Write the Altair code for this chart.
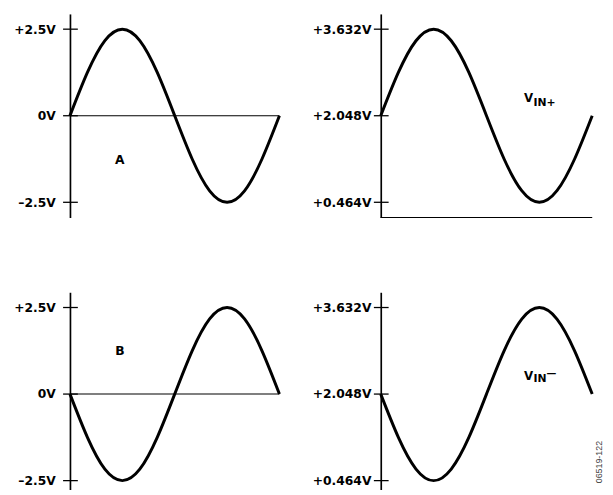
import altair as alt
import pandas as pd

# ---- data ----
phase_deg = [0, 30, 60, 90, 120, 150, 180, 210, 240, 270, 300, 330, 360]
wave_a = [0, 1.25, 2.17, 2.5, 2.17, 1.25, 0, -1.25, -2.17, -2.5, -2.17, -1.25, 0]
wave_b = [0, -1.25, -2.17, -2.5, -2.17, -1.25, 0, 1.25, 2.17, 2.5, 2.17, 1.25, 0]
vin_plus = [2.048, 2.840, 3.420, 3.632, 3.420, 2.840, 2.048, 1.256, 0.676, 0.464, 0.676, 1.256, 2.048]
vin_minus = [2.048, 1.256, 0.676, 0.464, 0.676, 1.256, 2.048, 2.840, 3.420, 3.632, 3.420, 2.840, 2.048]

bipolar_ticks = [2.5, 0, -2.5]
bipolar_labels = ["+2.5V", "0V", "\u20132.5V"]
unipolar_ticks = [3.632, 2.048, 0.464]
unipolar_labels = ["+3.632V", "+2.048V", "+0.464V"]

FONT = "DejaVu Sans"
LABEL_SIZE = 12.5


def label_expr(ticks, labels):
    expr = "''"
    for t, l in zip(ticks, labels):
        expr = f"datum.value == {t} ? '{l}' : ({expr})"
    return expr


def panel(values, ticks, labels, domain, width, height, pad, extent,
          ref_line=None, texts=()):
    xs = alt.Scale(domain=[0, 360], nice=False, zero=False)
    x_enc = alt.X("phase:Q", scale=xs, axis=None)
    y_axis = alt.Axis(values=ticks, labelExpr=label_expr(ticks, labels), ticks=False, grid=False,
                      domainColor="black", domainWidth=1.7, labelFont=FONT,
                      labelFontWeight="bold", labelFontSize=LABEL_SIZE, labelColor="black",
                      labelPadding=pad, minExtent=extent, maxExtent=extent, title=None,
                      labelOverlap=False, labelFlush=False)
    y_enc = alt.Y("v:Q", scale=alt.Scale(domain=domain, nice=False, zero=False), axis=y_axis)

    layers = []
    if ref_line is not None:
        layers.append(
            alt.Chart(pd.DataFrame({"phase": [0], "phase_end": [360], "v": [ref_line]}))
            .mark_rule(color="black", strokeWidth=1.1)
            .encode(y=y_enc, x=x_enc, x2="phase_end:Q")
        )
    layers.append(
        alt.Chart(pd.DataFrame({"v": ticks}))
        .mark_rule(color="black", strokeWidth=1.3)
        .encode(y=y_enc, x=alt.value(-7), x2=alt.value(8))
    )
    layers.append(
        alt.Chart(pd.DataFrame({"phase": phase_deg, "v": values}))
        .mark_line(color="black", strokeWidth=3, interpolate="natural")
        .encode(x=x_enc, y=y_enc)
    )
    for t in texts:
        txt, ph, v, props = t
        layers.append(
            alt.Chart(pd.DataFrame({"phase": [ph], "v": [v], "t": [txt]}))
            .mark_text(**props)
            .encode(x=x_enc, y=y_enc, text="t:N")
        )
    return alt.layer(*layers).properties(width=width, height=height)


bold = dict(font=FONT, fontWeight="bold", color="black", baseline="alphabetic")

panel_a = panel(
    wave_a, bipolar_ticks, bipolar_labels, [-2.94, 2.94], 213, 207, 15, 55, ref_line=0,
    texts=[("A", 85.7, -1.38, dict(bold, fontSize=12.5, align="center"))],
)
panel_vp = panel(
    vin_plus, unipolar_ticks, unipolar_labels, [0.185, 3.911], 215, 207, 10, 73,
    ref_line=0.185,
    texts=[
        ("V", 244, 2.295, dict(bold, fontSize=12, align="left")),
        ("IN+", 260, 2.223, dict(bold, fontSize=11, align="left")),
    ],
)
panel_b = panel(
    wave_b, bipolar_ticks, bipolar_labels, [-2.94, 2.94], 213, 207, 15, 55, ref_line=0,
    texts=[("B", 86, 1.12, dict(bold, fontSize=12.5, align="center"))],
)
panel_vm = panel(
    vin_minus, unipolar_ticks, unipolar_labels, [0.185, 3.911], 215, 207, 10, 73,
    texts=[
        ("V", 244, 2.313, dict(bold, fontSize=12, align="left")),
        ("IN", 260, 2.269, dict(bold, fontSize=11, align="left")),
        ("\u2014", 282, 2.413, dict(font=FONT, fontWeight="bold", color="black",
                                    fontSize=10, align="left", baseline="middle")),
        ("06519-122", 372, 1.19, dict(font="Liberation Sans", fontSize=9, color="#444444",
                                      angle=270, align="right", baseline="middle")),
    ],
)

top = alt.hconcat(panel_a, panel_vp, spacing=22)
bottom = alt.hconcat(panel_b, panel_vm, spacing=22)

# the reference figure is cropped at its lower edge: a negative bottom padding
# trims the drawing the same way
chart = (
    alt.vconcat(top, bottom, spacing=73)
    .properties(padding={"left": 5, "top": 1, "right": 0, "bottom": -11}, background="white")
    .configure_view(stroke="transparent")
)

chart.save("out.html", embed_options={"renderer": "svg", "actions": False})
